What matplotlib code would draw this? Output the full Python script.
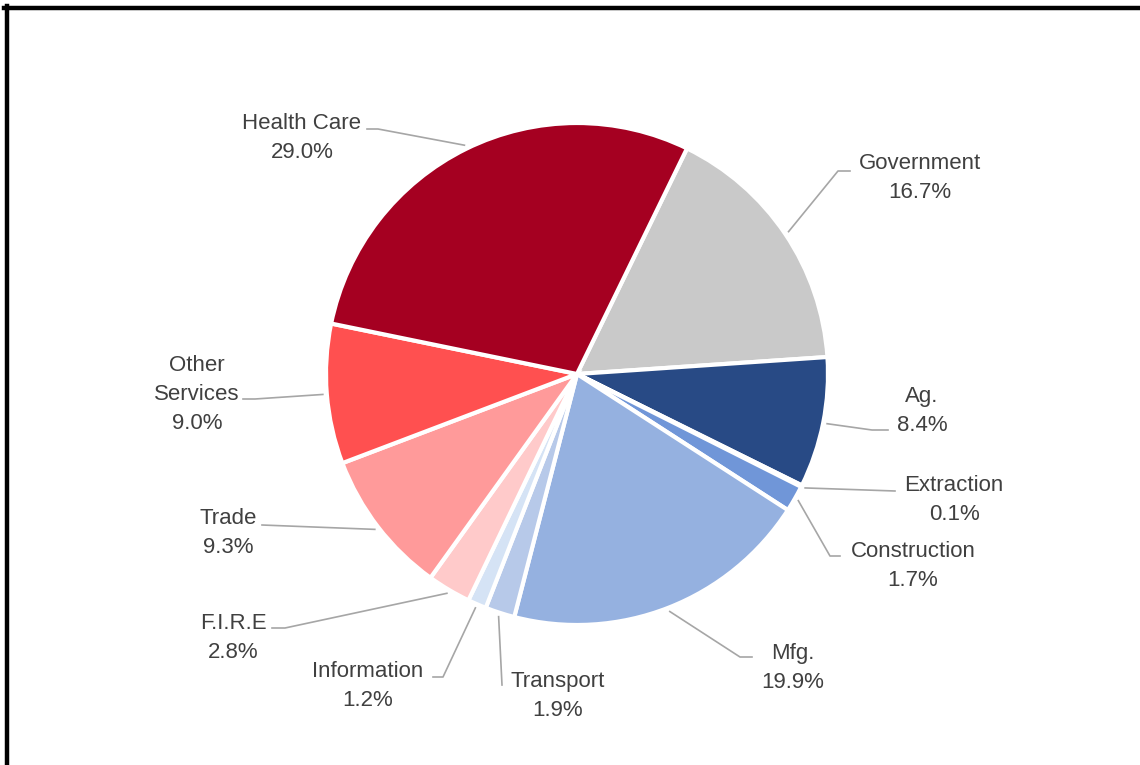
import numpy as np
import matplotlib.pyplot as plt
from matplotlib.lines import Line2D

# employment share by sector (%), clockwise from Government
sectors = ["Government", "Ag.", "Extraction", "Construction", "Mfg.",
           "Transport", "Information", "F.I.R.E", "Trade",
           "Other\nServices", "Health Care"]
shares = [16.7, 8.4, 0.1, 1.7, 19.9, 1.9, 1.2, 2.8, 9.3, 9.0, 29.0]
colors = ["#C9C9C9", "#284A85", "#1F3864", "#7096D8", "#95B1E0",
          "#B7C9E9", "#D5E3F5", "#FFCACA", "#FF9A9A", "#FF5050", "#A50021"]

W, H = 1140, 765
fig = plt.figure(figsize=(W / 100, H / 100), dpi=100)
ax = fig.add_axes([0, 0, 1, 1])

cx, cy, r = 577, 374, 251   # image pixel coords

def Y(y):
    return H - y

wedges, _ = ax.pie(shares, colors=colors, startangle=64, counterclock=False,
                   radius=r, center=(cx, Y(cy)),
                   wedgeprops=dict(edgecolor="white", linewidth=3))
ax.set_xlim(0, W)
ax.set_ylim(0, H)
ax.set_aspect("equal")
ax.axis("off")

# label layout: text centre x, first baseline y, leader points near text
layout = {
    "Government":     (920, 169, [(850, 171), (838, 171)]),
    "Ag.":            (922, 402, [(888, 430), (872, 430)]),
    "Extraction":     (954, 491, [(895, 491)]),
    "Construction":   (913, 557, [(840, 556), (830, 556)]),
    "Mfg.":           (793, 659, [(752, 657), (740, 657)]),
    "Transport":      (558, 687, [(502, 685)]),
    "Information":    (368, 677, [(433, 677), (443, 677)]),
    "F.I.R.E":        (233, 629, [(272, 628), (285, 628)]),
    "Trade":          (228, 524, [(262, 525)]),
    "Other\nServices": (197, 371, [(243, 399), (255, 399)]),
    "Health Care":    (302, 129, [(367, 129), (378, 129)]),
}

txt = dict(fontsize=16, color="#404040", family=["Liberation Sans", "DejaVu Sans"],
           ha="center", va="baseline")
for name, val, w in zip(sectors, shares, wedges):
    tx, ty, pts = layout[name]
    lines = name.split("\n") + [f"{val:.1f}%"]
    for i, s in enumerate(lines):
        ax.text(tx, Y(ty + i * 29), s, **txt)
    mid = np.deg2rad((w.theta1 + w.theta2) / 2)
    ex = cx + (r + 4) * np.cos(mid)
    ey = Y(cy) + (r + 4) * np.sin(mid)
    xs = [p[0] for p in pts] + [ex]
    ys = [Y(p[1]) for p in pts] + [ey]
    ax.plot(xs, ys, color="#A6A6A6", lw=1.2)

# black frame (only top and left edges are inside the image)
fig.add_artist(Line2D([6.5 / W, 6.5 / W], [0, 1 - 6 / H], color="black",
                      lw=3.2, transform=fig.transFigure))
fig.add_artist(Line2D([4 / W, 1], [1 - 8 / H, 1 - 8 / H], color="black",
                      lw=3.2, transform=fig.transFigure))

fig.savefig("out.png", dpi=100)
